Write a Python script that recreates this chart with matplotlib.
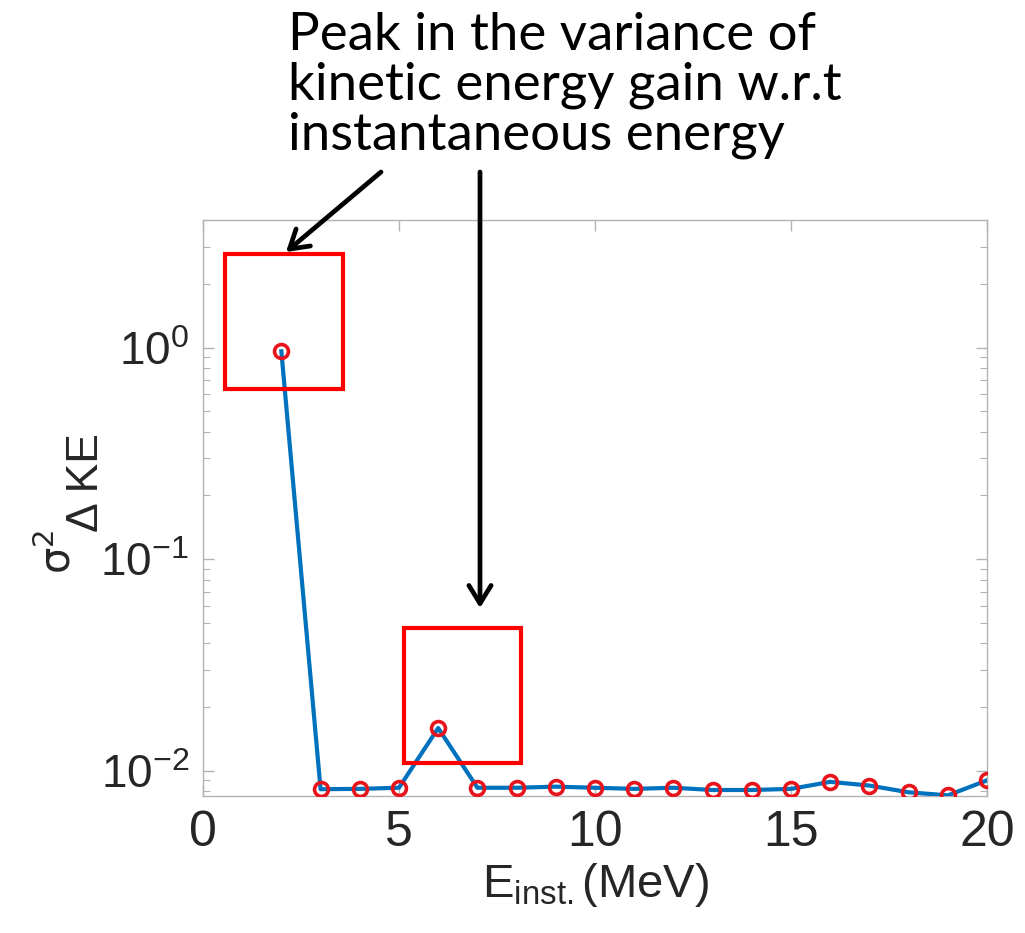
import matplotlib.pyplot as plt
from matplotlib.patches import Rectangle, FancyArrowPatch
from matplotlib.ticker import LogLocator, NullFormatter, FixedLocator, FixedFormatter

# data
energy = [2, 3, 4, 5, 6, 7, 8, 9, 10, 11, 12, 13, 14, 15, 16, 17, 18, 19, 20]
variance = [0.96, 0.00817, 0.0082, 0.0083, 0.0159, 0.0083, 0.0083, 0.0084, 0.0083,
            0.0082, 0.0083, 0.0081, 0.0081, 0.0082, 0.00885, 0.0085, 0.0079, 0.00764, 0.0090]
x_ticks = [0, 5, 10, 15, 20]
y_ticks = [0.01, 0.1, 1.0]
y_labels = [r'$10^{\mathrm{-2}}$', r'$10^{\mathrm{-1}}$', r'$10^{0}$']
note = "Peak in the variance of\nkinetic energy gain w.r.t\ninstantaneous energy"

plt.rcParams['font.family'] = ['Liberation Sans', 'DejaVu Sans']
plt.rcParams['mathtext.fontset'] = 'custom'
plt.rcParams['mathtext.rm'] = 'Liberation Sans'
plt.rcParams['mathtext.it'] = 'Liberation Sans:italic'
plt.rcParams['mathtext.default'] = 'regular'

W, H = 1025, 933
fig = plt.figure(figsize=(10.25, 9.33), dpi=100)
ax = fig.add_axes([0.198, 0.147, 0.765, 0.617])

ax.plot(energy, variance, color='#0072BD', linewidth=3, zorder=3)
ax.plot(energy, variance, linestyle='none', marker='o', markersize=10,
        markerfacecolor='none', markeredgecolor='#e8141c', markeredgewidth=2.6, zorder=4)

ax.set_yscale('log')
ax.set_xlim(0, 20)
ax.set_ylim(0.0076, 4.0)
ax.set_xticks(x_ticks)
ax.yaxis.set_major_locator(FixedLocator(y_ticks))
ax.yaxis.set_major_formatter(FixedFormatter(y_labels))
ax.yaxis.set_minor_locator(LogLocator(base=10, subs=range(2, 10), numticks=20))
ax.yaxis.set_minor_formatter(NullFormatter())

grey = '#b3b3b3'
for s in ax.spines.values():
    s.set_color(grey)
    s.set_linewidth(1.0)
ax.tick_params(which='both', direction='in', top=True, right=True, color=grey,
               labelsize=36, labelcolor='#262626')
ax.tick_params(axis='y', labelsize=33)
ax.tick_params(which='major', length=8, width=1.0, pad=10)
ax.tick_params(which='minor', length=5, width=0.8)

ax.set_xlabel(r'E$_{\mathrm{inst.}}$(MeV)', fontsize=34, color='#262626', labelpad=4)

# y label drawn as two rotated pieces: sigma^2 and the Delta KE subscript
fig.text(58 / W, 1 - 552 / H, r'$\sigma^{2}$', fontsize=30, rotation=90,
         ha='center', va='center', color='#262626', family=['DejaVu Sans'])
fig.text(87 / W, 1 - 483 / H, '\u0394 KE', fontsize=32, rotation=90,
         ha='center', va='center', color='#262626')

# red highlight boxes
ax.add_patch(Rectangle((0.56, 0.634), 3.0, 2.77 - 0.634, fill=False,
                       edgecolor='#ff0000', linewidth=3, zorder=5, clip_on=False))
ax.add_patch(Rectangle((5.13, 0.0109), 2.98, 0.0473 - 0.0109, fill=False,
                       edgecolor='#ff0000', linewidth=3, zorder=5, clip_on=False))

# annotation text and arrows (figure pixel coords)
fig.text(288 / W, 1 - 12 / H, note, fontsize=38, family=['Lato', 'DejaVu Sans'],
         va='top', ha='left', linespacing=1.07, color='black')
for x0, y0, x1, y1 in [(381, 172, 286, 252), (480, 172, 480, 608)]:
    fig.add_artist(FancyArrowPatch(
        (x0 / W, 1 - y0 / H), (x1 / W, 1 - y1 / H), transform=fig.transFigure,
        arrowstyle='->,head_length=13,head_width=8', color='black', lw=3.4,
        shrinkA=0, shrinkB=0))

fig.savefig('out.png', dpi=100)
